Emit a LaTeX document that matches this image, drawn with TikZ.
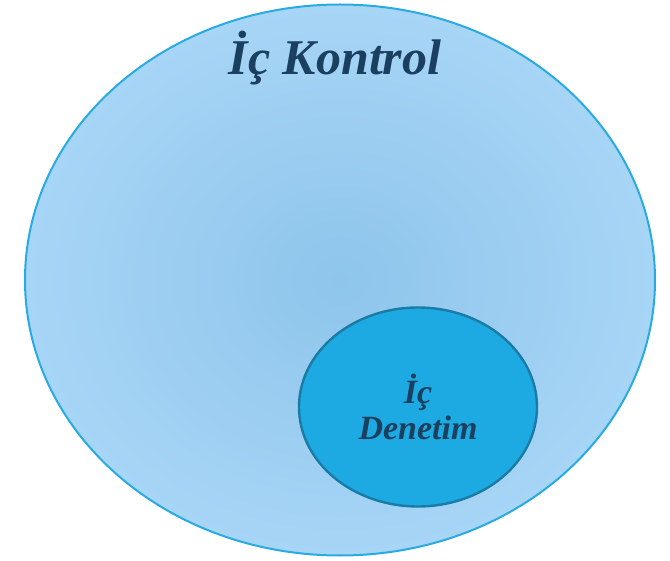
\documentclass[tikz,border=0pt]{standalone}
\usepackage{fontspec}
\setmainfont{Liberation Serif}
\usetikzlibrary{shapes.geometric}
\definecolor{outerfill}{HTML}{A7D5F6}
\definecolor{innershade}{HTML}{8EC5EB}
\definecolor{outerline}{HTML}{29ABE2}
\definecolor{innerfill}{HTML}{1DA9E1}
\definecolor{innerline}{HTML}{1A7BA6}
\definecolor{labeltext}{HTML}{1B405F}
\begin{document}
\begin{tikzpicture}[x=1pt, y=-1pt,
    big/.style = {draw=outerline, line width=2pt, ellipse, inner sep=0pt, inner color=innershade, outer color=outerfill},
    small/.style = {draw=innerline, line width=2.4pt, ellipse, inner sep=0pt, fill=innerfill, align=center, text=labeltext, font=\bfseries\itshape\fontsize{34}{38}\selectfont},
    title/.style = {text=labeltext, font=\bfseries\itshape\fontsize{50}{54}\selectfont}]
    \useasboundingbox (0,0) rectangle (670,561);
    \node[big, minimum width=630pt, minimum height=551pt] (kontrol) at (340,280) {};
    \node[title] (baslik) at (335,58) {İç Kontrol};
    \node[small, minimum width=238pt, minimum height=199pt] (denetim) at (418,407) {İç\\[-2pt]Denetim};
\end{tikzpicture}
\end{document}
